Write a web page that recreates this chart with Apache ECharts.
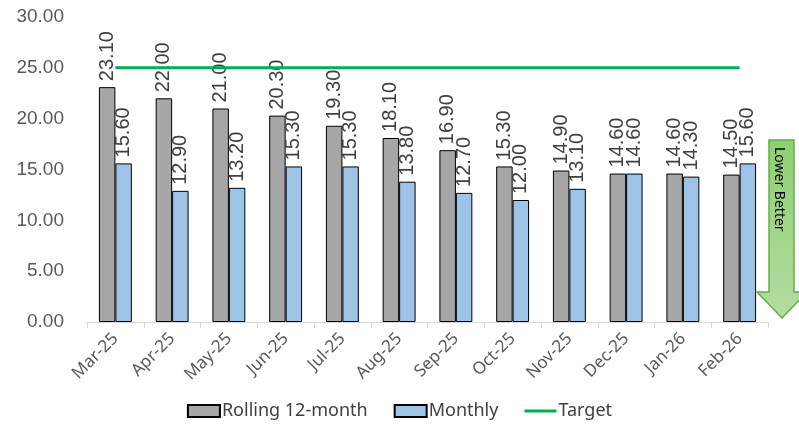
<!DOCTYPE html>
<html>
<head>
<meta charset="utf-8">
<script src="https://cdn.jsdelivr.net/npm/echarts@6/dist/echarts.min.js"></script>
<style>
  html, body { margin: 0; padding: 0; background: #fff; }
  #chart { width: 799px; height: 429px; }
</style>
</head>
<body>
<div id="chart"></div>
<script>
// chart data
const months = ['Mar-25', 'Apr-25', 'May-25', 'Jun-25', 'Jul-25', 'Aug-25', 'Sep-25', 'Oct-25', 'Nov-25', 'Dec-25', 'Jan-26', 'Feb-26']
const rolling = [23.10, 22.00, 21.00, 20.30, 19.30, 18.10, 16.90, 15.30, 14.90, 14.60, 14.60, 14.50]
const monthly = [15.60, 12.90, 13.20, 15.30, 15.30, 13.80, 12.70, 12.00, 13.10, 14.60, 14.30, 15.60]
const target = [25, 25, 25, 25, 25, 25, 25, 25, 25, 25, 25, 25]
const yTicks = [0, 5, 10, 15, 20, 25, 30]

let myChart = echarts.init(document.getElementById('chart'))

const labelOption = {
  show: true, position: 'top', rotate: 90, align: 'left', verticalAlign: 'middle',
  distance: 6, fontSize: 20, color: '#404040', fontFamily: 'Liberation Sans',
  formatter: (p) => p.value.toFixed(2)
}

let option = {
  animation: false,
  grid: {left: 87, right: 31, top: 17, bottom: 107},
  legend: {
    bottom: 4, left: 'center', itemWidth: 32, itemHeight: 12, itemGap: 26,
    textStyle: {fontSize: 18, color: '#404040', fontFamily: 'Noto Sans', padding: [0, 0, 0, -3]},
    data: [
      {name: 'Rolling 12-month', icon: 'rect'},
      {name: 'Monthly', icon: 'rect'},
      {name: 'Target', icon: 'path://M0,0 L33,0 L33,3 L0,3 Z', itemStyle: {color: '#00b050', borderWidth: 0}}
    ]
  },
  xAxis: {
    type: 'category',
    data: months,
    axisLine: {lineStyle: {color: '#d9d9d9'}},
    axisTick: {show: true, length: 6, lineStyle: {color: '#d9d9d9'}},
    axisLabel: {interval: 0, rotate: 45, fontSize: 17, color: '#595959', fontFamily: 'Noto Sans', margin: 14}
  },
  yAxis: {
    type: 'value', min: yTicks[0], max: yTicks[yTicks.length - 1], interval: 5,
    splitLine: {show: false},
    axisLabel: {fontSize: 19, color: '#595959', fontFamily: 'Liberation Sans', margin: 23,
      formatter: (v) => v.toFixed(2)}
  },
  series: [
    {
      name: 'Rolling 12-month', type: 'bar', data: rolling,
      barGap: '0%', barCategoryGap: '42%',
      itemStyle: {color: '#a6a6a6', borderColor: '#000', borderWidth: 1},
      label: labelOption
    },
    {
      name: 'Monthly', type: 'bar', data: monthly,
      itemStyle: {color: '#9dc3e6', borderColor: '#000', borderWidth: 1},
      label: labelOption
    },
    {
      name: 'Target', type: 'line', data: target, symbol: 'none',
      lineStyle: {color: '#00b050', width: 3}, itemStyle: {color: '#00b050'}
    }
  ],
  graphic: [
    {
      type: 'polygon', z: 10,
      shape: {points: [[769, 140], [794, 140], [794, 292], [807, 292], [782, 318], [757, 292], [769, 292]]},
      style: {
        fill: new echarts.graphic.LinearGradient(0, 0, 0, 1, [
          {offset: 0, color: '#8fcf72'}, {offset: 1, color: '#b4dca3'}
        ]),
        stroke: '#62b043', lineWidth: 1.5
      }
    },
    {
      type: 'text', z: 11, x: 786, y: 147, rotation: -Math.PI / 2,
      style: {text: 'Lower Better', fontSize: 14, fill: '#000', fontFamily: 'Noto Sans'}
    }
  ]
}
myChart.setOption(option)
</script>
</body>
</html>
